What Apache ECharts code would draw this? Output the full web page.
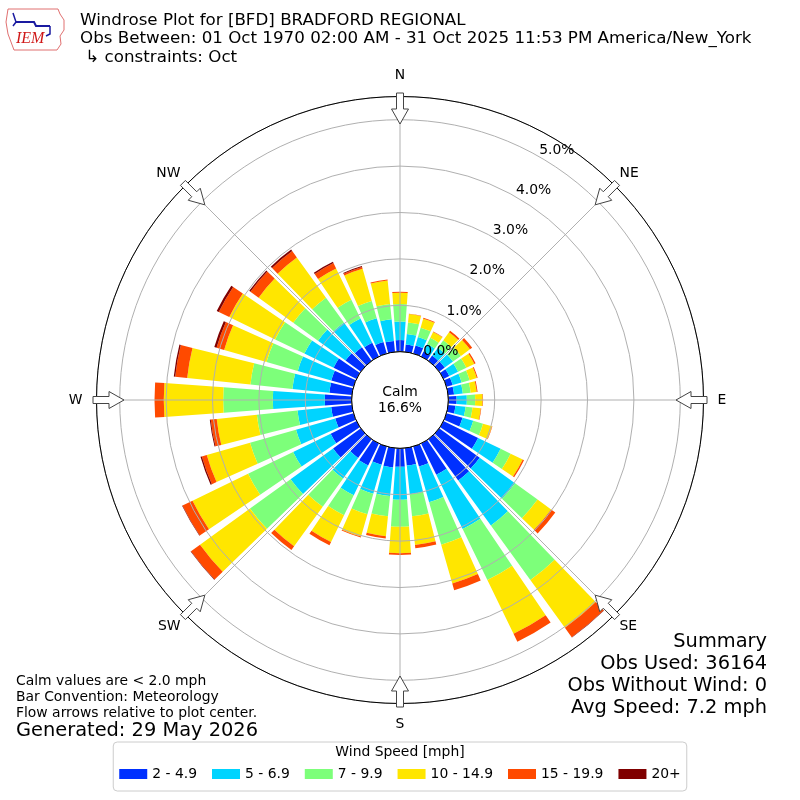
<!DOCTYPE html>
<html><head><meta charset="utf-8">
<script src="https://cdn.jsdelivr.net/npm/echarts@6/dist/echarts.min.js"></script>
<style>html,body{margin:0;padding:0;background:#fff}#c{width:800px;height:800px}</style>
</head><body><div id="c"></div>
<script>
// ---- data ----
const directions = [0,10,20,30,40,50,60,70,80,90,100,110,120,130,140,150,160,170,180,190,200,210,220,230,240,250,260,270,280,290,300,310,320,330,340,350];
const speedBins = ['2 - 4.9','5 - 6.9','7 - 9.9','10 - 14.9','15 - 19.9','20+'];
const binColors = ['#0030ff','#00d4ff','#7dff7a','#ffe600','#ff4a00','#800000'];
// percent of observations per direction, per speed bin
const bin2to5   = [0.25,0.16,0.18,0.12,0.14,0.15,0.14,0.14,0.13,0.18,0.16,0.36,0.83,1.08,1.10,0.75,0.45,0.38,0.40,0.42,0.41,0.53,0.50,0.74,0.62,0.41,0.45,0.58,0.49,0.50,0.55,0.41,0.36,0.33,0.26,0.24];
const bin5to7   = [0.40,0.23,0.19,0.18,0.21,0.22,0.21,0.20,0.19,0.22,0.22,0.24,0.54,0.94,1.20,1.30,0.80,0.62,0.71,0.62,0.65,0.71,0.55,1.13,0.90,0.88,0.73,1.12,0.80,0.75,0.70,0.73,0.66,0.58,0.53,0.47];
const bin7to10  = [0.38,0.25,0.21,0.15,0.20,0.21,0.20,0.18,0.17,0.18,0.15,0.22,0.24,0.60,1.45,1.22,0.95,0.48,0.58,0.44,0.46,0.48,0.75,1.08,1.08,1.03,0.88,1.07,0.91,0.70,0.70,0.66,0.66,0.45,0.39,0.33];
const bin10to15 = [0.24,0.18,0.20,0.14,0.21,0.24,0.19,0.16,0.13,0.16,0.18,0.20,0.29,0.36,1.27,1.29,0.87,0.62,0.57,0.43,0.50,0.64,1.05,1.33,1.33,0.97,0.87,1.28,1.37,0.95,1.10,0.92,1.07,0.75,0.72,0.51];
const bin15to20 = [0.02,0.01,0.02,0.01,0.04,0.06,0.03,0.02,0.02,0.01,0.01,0.01,0.03,0.11,0.25,0.19,0.15,0.07,0.04,0.05,0.02,0.08,0.10,0.24,0.24,0.11,0.13,0.20,0.26,0.17,0.25,0.22,0.17,0.13,0.04,0.02];
const bin20plus = [0,0,0,0,0,0,0,0,0,0,0,0,0,0,0.01,0,0,0,0,0,0,0,0,0.01,0.01,0.03,0.02,0,0.03,0.05,0.05,0.03,0.04,0.03,0.02,0];
const calmPct = 16.6;
const radialTicks = [0,1,2,3,4,5];
const compassLabels = ['N','NE','E','SE','S','SW','W','NW'];
const compassAngles = [0,45,90,135,180,225,270,315];

// ---- layout ----
const CX = 400, CY = 400, R0 = 48.3, R1 = 303.5, RMAX = 5.5;
const FONT = 'DejaVu Sans';
const FS = 13.9;
const binValues = [bin2to5, bin5to7, bin7to10, bin10to15, bin15to20, bin20plus];

const arrows = compassAngles.map(a => {
  const t = a * Math.PI / 180, ux = Math.sin(t), uy = -Math.cos(t), vx = Math.cos(t), vy = Math.sin(t);
  const P = (r, w) => [CX + ux * r + vx * w, CY + uy * r + vy * w];
  return {type:'polygon', z:60,
    shape:{points:[P(307,-3.5),P(291,-3.5),P(291,-8.5),P(276,0),P(291,8.5),P(291,3.5),P(307,3.5)]},
    style:{fill:'#fff', stroke:'#444', lineWidth:1}};
});

const compassFmt = (diag) => v => {
  if (v >= 360) return '';
  const i = Math.round(v / 45);
  return (i % 2 === 1) === diag ? compassLabels[i] : '';
};

const chart = echarts.init(document.getElementById('c'));
chart.setOption({
  animation:false,
  backgroundColor:'#fff',
  title:{
    text:'Windrose Plot for [BFD] BRADFORD REGIONAL\nObs Between: 01 Oct 1970 02:00 AM - 31 Oct 2025 11:53 PM America/New_York\n ↳ constraints: Oct',
    left:75, top:6,
    textStyle:{fontFamily:FONT, fontSize:16.7, fontWeight:'normal', color:'#000', lineHeight:18.5}
  },
  polar:[
    {center:[CX,CY], radius:[R0,R1]},
    {center:[CX,CY], radius:[R0,R1]},
    {center:[CX,CY-7], radius:[R0,R1]},
    {center:[CX,CY], radius:[R0,R1-7]}
  ],
  angleAxis:[
    {polarIndex:0, type:'category', data:directions.map(String), startAngle:95, clockwise:true, boundaryGap:true,
     axisLine:{show:false}, axisTick:{show:false}, axisLabel:{show:false}, splitLine:{show:false}, splitArea:{show:false}},
    {polarIndex:1, type:'value', min:0, max:360, interval:45, startAngle:90, clockwise:true, z:10,
     axisLine:{show:true, lineStyle:{color:'#000', width:1}}, axisTick:{show:false},
     axisLabel:{show:true, margin:14, color:'#000', fontSize:FS, fontFamily:FONT, formatter:compassFmt(false)},
     splitLine:{show:true, lineStyle:{color:'#b0b0b0', width:1}}},
    {polarIndex:2, type:'value', min:0, max:360, startAngle:60, clockwise:true, show:false},
    {polarIndex:3, type:'value', min:0, max:360, interval:45, startAngle:90, clockwise:true, z:10,
     axisLine:{show:false}, axisTick:{show:false}, splitLine:{show:false},
     axisLabel:{show:true, margin:14, color:'#000', fontSize:FS, fontFamily:FONT, formatter:compassFmt(true)}}
  ],
  radiusAxis:[
    {polarIndex:0, type:'value', min:0, max:RMAX, axisLine:{show:false}, axisTick:{show:false}, axisLabel:{show:false}, splitLine:{show:false}},
    {polarIndex:1, type:'value', min:0, max:RMAX, interval:1, z:10, axisLine:{show:false}, axisTick:{show:false}, axisLabel:{show:false},
     splitLine:{show:true, lineStyle:{color:'#b0b0b0', width:1}}},
    {polarIndex:2, type:'value', min:0, max:RMAX, interval:1, z:12, axisLine:{show:false}, axisTick:{show:false}, splitLine:{show:false},
     axisLabel:{show:true, margin:0, align:'center', verticalAlign:'middle', padding:[0,0,32,33.4], color:'#000', fontSize:FS, fontFamily:FONT,
       showMinLabel:true, formatter:v => radialTicks.includes(v) ? v.toFixed(1) + '%' : ''}},
    {polarIndex:3, type:'value', min:0, max:RMAX, show:false}
  ],
  legend:{
    bottom:9, left:'center', data:speedBins, icon:'rect', itemWidth:28, itemHeight:10, itemGap:15,
    textStyle:{fontFamily:FONT, fontSize:FS, color:'#000'},
    borderColor:'#cccccc', borderWidth:1, borderRadius:4, padding:[25,6,10,6], selectedMode:false
  },
  series:speedBins.map((name, i) => ({
    type:'bar', name, coordinateSystem:'polar', polarIndex:0, stack:'wind', z:2,
    barCategoryGap:'18%', data:binValues[i], itemStyle:{color:binColors[i]},
    emphasis:{disabled:true}, silent:true
  })),
  graphic:[
    ...arrows,
    {type:'circle', z:50, shape:{cx:CX, cy:CY, r:R0}, style:{fill:'#fff', stroke:'#000', lineWidth:1}},
    {type:'text', z:51, x:CX, y:CY, style:{text:'Calm\n' + calmPct.toFixed(1) + '%', fontSize:FS, fontFamily:FONT, fill:'#000', align:'center', verticalAlign:'middle', lineHeight:16}},
    {type:'text', z:51, x:400, y:752, style:{text:'Wind Speed [mph]', fontSize:FS, fontFamily:FONT, fill:'#000', align:'center', verticalAlign:'middle'}},
    {type:'text', z:51, x:16, y:673, style:{text:'Calm values are < 2.0 mph\nBar Convention: Meteorology\nFlow arrows relative to plot center.', fontSize:FS, fontFamily:FONT, fill:'#000', align:'left', verticalAlign:'top', lineHeight:16}},
    {type:'text', z:51, x:16, y:731, style:{text:'Generated: 29 May 2026', fontSize:19.4, fontFamily:FONT, fill:'#000', align:'left', verticalAlign:'middle'}},
    {type:'text', z:51, x:767, y:631, style:{text:'Summary\nObs Used: 36164\nObs Without Wind: 0\nAvg Speed: 7.2 mph', fontSize:19.4, fontFamily:FONT, fill:'#000', align:'right', verticalAlign:'top', lineHeight:22}},
    // IEM logo (approximate)
    {type:'polyline', z:51, shape:{points:[[8,9],[58,9],[60,14],[64,20],[64,30],[60,36],[61,44],[57,50],[14,50],[11,42],[8,34],[6,22],[8,9]]}, style:{stroke:'#e07070', fill:'none', lineWidth:1}},
    {type:'polyline', z:51, shape:{points:[[16,22],[34,22],[36,26],[50,26]]}, style:{stroke:'#1a1aa0', fill:'none', lineWidth:2}},
    {type:'polyline', z:51, shape:{points:[[13,13],[16,22],[13,26]]}, style:{stroke:'#1a1aa0', fill:'none', lineWidth:1.5}},
    {type:'polyline', z:51, shape:{points:[[50,26],[50,34],[46,36]]}, style:{stroke:'#1a1aa0', fill:'none', lineWidth:1.5}},
    {type:'text', z:51, x:16, y:39, style:{text:'IEM', fontSize:16, fontFamily:'Liberation Serif', fontStyle:'italic', fill:'#d01818', align:'left', verticalAlign:'middle'}}
  ]
});
</script>
</body></html>
